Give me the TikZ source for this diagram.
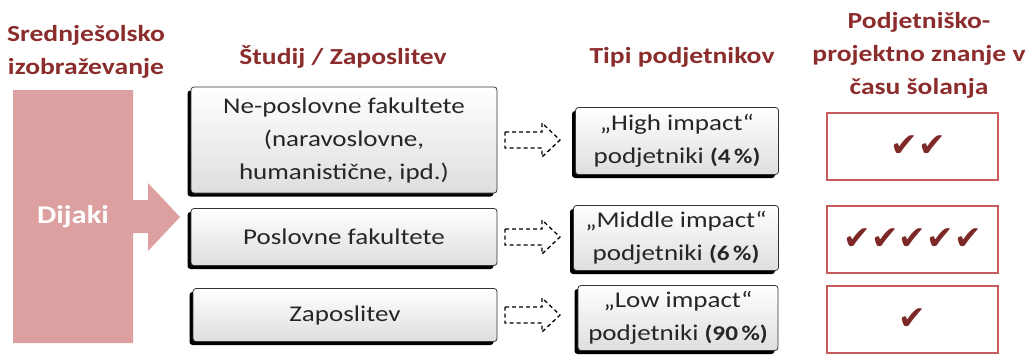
\documentclass[tikz,border=0pt]{standalone}
\usepackage{fontspec}
\setmainfont{Carlito}[FakeStretch=1.2]
\newfontfamily\symfont{DejaVu Sans}
\usetikzlibrary{shadows}
\definecolor{headred}{HTML}{8C2D2D}
\definecolor{pinkfill}{HTML}{DDA0A0}
\definecolor{boxred}{HTML}{C85C5C}
\definecolor{tickred}{HTML}{7E2828}
\definecolor{boxtext}{HTML}{262626}
\tikzset{
  head/.style={text=headred, font=\bfseries\fontsize{23}{33}\selectfont, align=center},
  greybox/.style={draw=black!80, line width=0.8pt, rounded corners=3pt,
    top color=white, bottom color=black!13, text=boxtext,
    font=\fontsize{22.5}{33}\selectfont, align=center, inner sep=0pt,
    general shadow={fill=black, shadow xshift=-3.5pt, shadow yshift=-3.5pt}},
  redbox/.style={draw=boxred, line width=1.3pt, minimum width=171pt, minimum height=67pt, inner sep=0pt},
  ticks/.style={text=tickred, font=\symfont\fontsize{33}{33}\selectfont},
  dasharrow/.style={draw=black, line width=1.3pt, dash pattern=on 4pt off 3pt},
}
\newcommand{\pct}[1]{{\bfseries\fontsize{21}{33}\selectfont(#1)}}
\begin{document}
\begin{tikzpicture}[x=1pt,y=-1pt]
\useasboundingbox (0,0) rectangle (1028,356);

% column headings
\node[head] (hschool) at (86,52) {Srednješolsko\\izobraževanje};
\node[head] (hstudy) at (343,57) {Študij / Zaposlitev};
\node[head] (htypes) at (682,57) {Tipi podjetnikov};
\node[head] (hknow) at (919,55) {Podjetniško-\\projektno znanje v\\času šolanja};

% pupils block with arrow
\fill[pinkfill] (13,90) -- (133,90) -- (133,200) -- (148,200) -- (148,183)
  -- (180,217) -- (148,251) -- (148,233) -- (133,233) -- (133,343) -- (13,343) -- cycle;
\node[text=white, font=\bfseries\fontsize{25.5}{33}\selectfont] (pupils) at (73,217) {Dijaki};

% study / employment boxes
\node[greybox, minimum width=306pt, minimum height=106pt] (nonbiz) at (344,140)
  {Ne-poslovne fakultete\\(naravoslovne,\\humanistične, ipd.)};
\node[greybox, minimum width=306pt, minimum height=57pt] (biz) at (344,237) {Poslovne fakultete};
\node[greybox, minimum width=304pt, minimum height=53pt] (job) at (345,315) {Zaposlitev};

% entrepreneur types
\node[greybox, minimum width=203pt, minimum height=67pt] (high) at (677,141)
  {„High impact“\\podjetniki \pct{4\,\%}};
\node[greybox, minimum width=205pt, minimum height=65pt] (middle) at (676,238)
  {„Middle impact“\\podjetniki \pct{6\,\%}};
\node[greybox, minimum width=200pt, minimum height=65pt] (low) at (678,318)
  {„Low impact“\\podjetniki \pct{90\,\%}};

% dashed block arrows between the columns
\foreach \yy in {140,237,315}{
  \draw[dasharrow] (505,\yy) ++(0,-8) -- ++(37,0) -- ++(0,-9) -- ++(18,17)
    -- ++(-18,17) -- ++(0,-9) -- ++(-37,0) -- cycle;
}

% knowledge boxes with check marks
\node[redbox] (khigh) at (912.5,146.5) {};
\node[redbox] (kmiddle) at (912.5,239.5) {};
\node[redbox] (klow) at (912.5,319.5) {};
\node[ticks] (thigh) at ([xshift=6pt]khigh) {✔✔};
\node[ticks] (tmiddle) at (kmiddle) {✔✔✔✔✔};
\node[ticks] (tlow) at (klow) {✔};
\end{tikzpicture}
\end{document}
